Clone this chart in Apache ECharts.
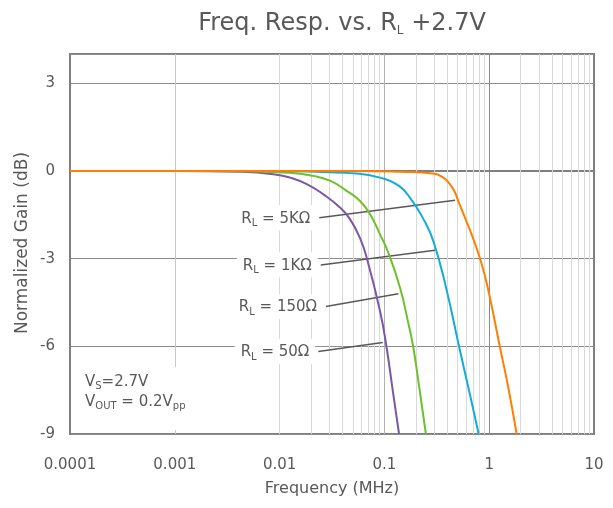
<!DOCTYPE html>
<html><head><meta charset="utf-8">
<script src="https://cdn.jsdelivr.net/npm/echarts@6/dist/echarts.min.js"></script>
<style>html,body{margin:0;padding:0;background:#fff}#c{width:613px;height:508px}</style>
</head><body><div id="c"></div>
<script>
// ---- data ----
const freq50  = [0.0001, 0.001, 0.00419, 0.00871, 0.01256, 0.01815, 0.02612, 0.03767, 0.04695, 0.0585, 0.0678, 0.0908, 0.105, 0.12, 0.138];
const gain50  = [0, 0, -0.03, -0.11, -0.23, -0.45, -0.80, -1.25, -1.65, -2.3, -2.97, -4.79, -6.05, -7.5, -9];
const freq150 = [0.0001, 0.003, 0.01256, 0.021, 0.0305, 0.0436, 0.0585, 0.073, 0.0908, 0.109, 0.141, 0.169, 0.189, 0.215, 0.249];
const gain150 = [0, 0, -0.06, -0.17, -0.34, -0.68, -1.03, -1.48, -2.17, -2.8, -4.0, -5.2, -6.05, -7.4, -9];
const freq1k  = [0.0001, 0.01, 0.026, 0.0543, 0.0908, 0.131, 0.175, 0.24, 0.293, 0.385, 0.519, 0.65, 0.794];
const gain1k  = [0, 0, -0.04, -0.09, -0.23, -0.46, -0.91, -1.7, -2.4, -3.95, -6.05, -7.6, -9];
const freq5k  = [0.0001, 0.05, 0.141, 0.293, 0.365, 0.423, 0.472, 0.507, 0.587, 0.68, 0.849, 1.0, 1.27, 1.5, 1.83];
const gain5k  = [0, 0, -0.03, -0.09, -0.23, -0.46, -0.74, -1.03, -1.6, -2.17, -3.19, -4.22, -6.05, -7.3, -9];

const yTicks = [-9, -6, -3, 0, 3];
const minorX = [];
for (let d = -4; d < 1; d++) for (let k = 2; k <= 9; k++) minorX.push(parseFloat((k * Math.pow(10, d)).toPrecision(3)));

// annotation leader lines (data coordinates [MHz, dB])
const annLabels = ['5KΩ', '1KΩ', '150Ω', '50Ω'];
const annStart = [[0.0239, -1.60], [0.0247, -3.22], [0.0277, -4.64], [0.0234, -6.18]];
const annEnd   = [[0.472, -1.00], [0.304, -2.71], [0.136, -4.20], [0.0964, -5.87]];

const FONT = 'DejaVu Sans';
const TXT = '#595959';
const COLORS = ['#7a58a5', '#6cc12c', '#13acd6', '#ff8000'];

const pair = (xs, ys) => xs.map((x, i) => [x, ys[i]]);
const rich = {
  r: {fontFamily: FONT, fontSize: 15, color: TXT, fill: TXT},
  s: {fontFamily: FONT, fontSize: 10, color: TXT, fill: TXT, padding: [9, 0, 0, 0]}
};

const chart = echarts.init(document.getElementById('c'));
const curveSeries = [[freq50, gain50], [freq150, gain150], [freq1k, gain1k], [freq5k, gain5k]].map((p, i) => ({
  type: 'line', data: pair(p[0], p[1]), showSymbol: false, smooth: 0.5,
  lineStyle: {color: COLORS[i], width: 2}, z: 5, silent: true
}));

chart.setOption({
  animation: false,
  backgroundColor: '#fff',
  title: {
    text: '{t|Freq. Resp. vs. R}{ts|L}{t| +2.7V}', left: 337, top: 5, textAlign: 'center',
    textStyle: {fontWeight: 'normal', rich: {
      t: {fontFamily: FONT, fontSize: 24, color: TXT, fontWeight: 'normal'},
      ts: {fontFamily: FONT, fontSize: 12, color: TXT, fontWeight: 'normal', padding: [15, 0, 0, 0]}
    }}
  },
  grid: {left: 70, right: 19, top: 54, bottom: 74, show: true, borderColor: '#7f7f7f', borderWidth: 2, backgroundColor: 'transparent'},
  xAxis: {
    type: 'log', logBase: 10, min: 0.0001, max: 10,
    axisLine: {show: true, lineStyle: {color: '#7f7f7f', width: 2}},
    axisTick: {show: false},
    axisLabel: {fontFamily: FONT, fontSize: 15, color: TXT, margin: 24,
      formatter: v => String(parseFloat(Number(v).toPrecision(6)))},
    splitLine: {show: true, lineStyle: {color: ['#c8c8c8', '#c8c8c8', '#cfcfcf', '#b0b0b0', '#8c8c8c', '#7f7f7f'], width: 1}}
  },
  yAxis: {
    type: 'value', min: -9, max: 4, interval: 3,
    axisLine: {show: true, lineStyle: {color: '#7f7f7f', width: 2}},
    axisTick: {show: false},
    axisLabel: {fontFamily: FONT, fontSize: 15, color: TXT, margin: 15, showMaxLabel: false,
      formatter: v => (yTicks.indexOf(v) >= 0 ? String(v) : '')},
    splitLine: {show: true, lineStyle: {color: '#8c8c8c', width: 1}}
  },
  graphic: [
    {type: 'text', x: 332, y: 481, style: {text: 'Frequency (MHz)', font: '16px "' + FONT + '"', fill: TXT, align: 'center', verticalAlign: 'top'}},
    {type: 'text', x: 14, y: 243, rotation: Math.PI / 2, origin: [0, 0],
      style: {text: 'Normalized Gain (dB)', font: '17px "' + FONT + '"', fill: TXT, align: 'center', verticalAlign: 'top'}},
    {type: 'rect', shape: {x: 73, y: 367, width: 130, height: 63}, style: {fill: '#fff'}, z: 10},
    {type: 'text', x: 85, y: 372, z: 11, style: {
      text: '{r|V}{s|S}{r|=2.7V}\n{r|V}{s|OUT}{r| = 0.2V}{s|pp}', rich: rich, lineHeight: 20, fill: TXT}}
  ],
  series: [
    {type: 'line', data: [], silent: true, z: 1,
      markLine: {silent: true, symbol: ['none', 'none'], label: {show: false}, animation: false,
        lineStyle: {color: '#d9d9d9', width: 1, type: 'solid'},
        data: minorX.map(v => ({xAxis: v}))}},
    ...curveSeries,
    {type: 'line', data: [], silent: true, z: 8,
      markLine: {silent: true, symbol: ['none', 'none'], label: {show: false}, animation: false,
        lineStyle: {color: '#595959', width: 1.5, type: 'solid'},
        data: annStart.map((s, i) => [{coord: s}, {coord: annEnd[i]}])},
      markPoint: {silent: true, symbol: 'rect', symbolSize: 0, animation: false,
        label: {show: true, position: 'left', distance: 3, backgroundColor: '#fff', padding: [4, 6, 2, 6],
          formatter: p => '{r|R}{s|L}{r| = ' + p.name + '}', rich: rich},
        data: annStart.map((s, i) => ({name: annLabels[i], coord: s}))}}
  ]
});
</script></body></html>
